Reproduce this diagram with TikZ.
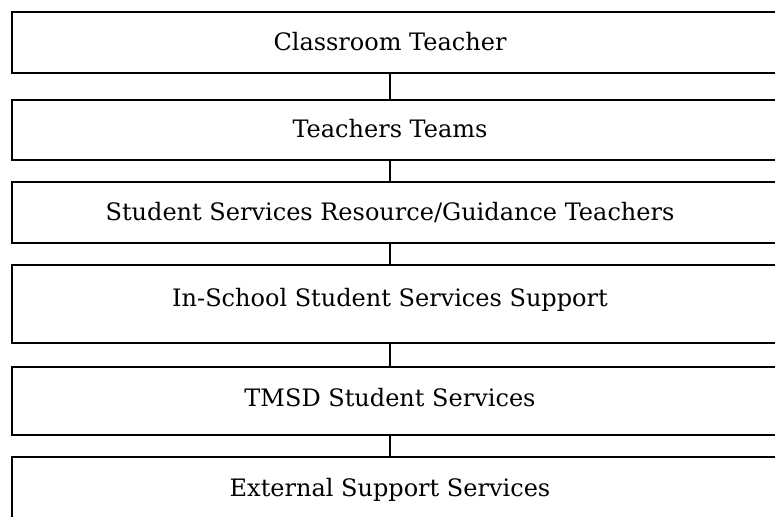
\documentclass[tikz,border=0pt]{standalone}
\usepackage{fontspec}
\setmainfont{DejaVu Serif}
\usetikzlibrary{positioning}

\begin{document}
\begin{tikzpicture}[x = 1pt, y = -1pt, box/.style = {rectangle, draw = black, line width = 1.6pt, minimum width = 778pt, inner sep = 0pt}, lbl/.style = {font = \fontsize{24}{28}\selectfont}]

	\useasboundingbox (0, 0) rectangle (775, 516);

	\node (CTb) at (401,  42.5) [box, minimum height = 61pt] {};
	\node (TTb) at (401, 130.0) [box, minimum height = 60pt] {};
	\node (SSb) at (401, 212.5) [box, minimum height = 61pt] {};
	\node (ISb) at (401, 304.0) [box, minimum height = 78pt] {};
	\node (TMb) at (401, 401.0) [box, minimum height = 68pt] {};
	\node (EXb) at (401, 500.0) [box, minimum height = 86pt] {};

	\node (CT) at (390,  42) [lbl] {Classroom Teacher};
	\node (TT) at (390, 129) [lbl] {Teachers Teams};
	\node (SS) at (390, 212) [lbl] {Student Services Resource/Guidance Teachers};
	\node (IS) at (390, 300) [lbl] {In-School Student Services Support};
	\node (TM) at (390, 398) [lbl] {TMSD Student Services};
	\node (EX) at (390, 490) [lbl] {External Support Services};

    \foreach \from/\to in {CT/TT, TT/SS, SS/IS, IS/TM, TM/EX}
    	\draw [line width = 1.6pt] (\from b.south -| \from) -- (\to b.north -| \from);

\end{tikzpicture}
\end{document}
